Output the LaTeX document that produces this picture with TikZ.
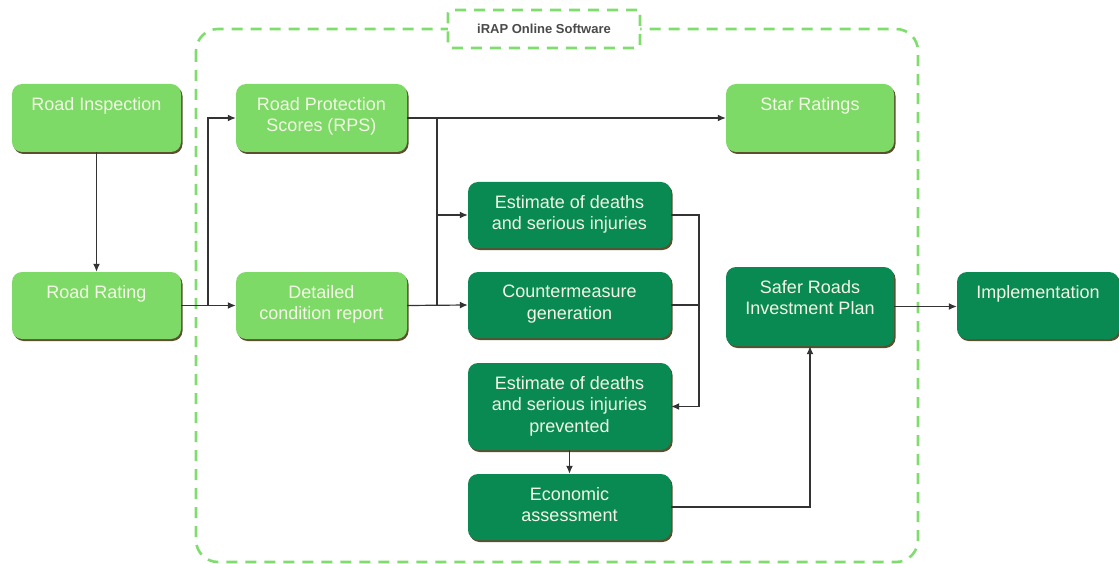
\documentclass[tikz,border=0pt]{standalone}
\usepackage{fontspec}
\setmainfont{Liberation Sans}
\usetikzlibrary{arrows.meta}
\definecolor{lgreen}{HTML}{7DDA67}
\definecolor{dgreen}{HTML}{088A52}
\definecolor{shade}{HTML}{5A5030}
\definecolor{dashgreen}{HTML}{7FDD6E}
\definecolor{txtc}{HTML}{F4F7E6}
\definecolor{linec}{HTML}{333333}
\definecolor{labc}{HTML}{4A4A4A}
\begin{document}
\begin{tikzpicture}[x=1pt,y=-1pt,
  boxbase/.style={rounded corners=10pt, inner sep=0pt},
  shad/.style={fill=shade, rounded corners=10pt},
  lbox/.style={boxbase, fill=lgreen},
  dbox/.style={boxbase, fill=dgreen},
  txt/.style={font=\fontsize{18}{21.5}\selectfont, text=txtc, align=center, inner sep=0pt, anchor=north, yshift=-13pt},
  arr/.style={draw=linec, line width=1.2pt, -{Latex[length=8pt,width=7pt]}},
  ln/.style={draw=linec, line width=1.2pt},
  cont/.style={draw=dashgreen, line width=2.6pt, dash pattern=on 11pt off 8pt}]
\useasboundingbox (0,0) rectangle (1119,564);
% container
\draw[cont, rounded corners=22pt] (196,29) rectangle (918,562);
\node[cont, fill=white, rounded corners=3pt, minimum width=192pt, minimum height=38pt, inner sep=0pt,
  font=\fontsize{13}{16}\selectfont\bfseries, text=labc] (lab) at (544,29) {iRAP Online Software};
% shadows
\foreach \cx/\cy/\w/\h in {96.5/118/169/68, 96.5/305.5/169/67, 321.5/118/171/68, 321.5/305.5/171/67,
  810/118/168/68, 569.5/215/203/66, 569.5/305/203/66, 569.5/406.5/203/87, 569.5/507/203/66,
  810/306.5/168/79, 1038/305.5/162/67}
  \fill[shad] (\cx-\w/2+1.5,\cy-\h/2+2) rectangle (\cx+\w/2+1.5,\cy+\h/2+2);
% boxes
\node[lbox, minimum width=169pt, minimum height=68pt] (ri) at (96.5,118) {};
\node[txt] at (ri.north) {Road Inspection};
\node[lbox, minimum width=169pt, minimum height=67pt] (rr) at (96.5,305.5) {};
\node[txt] at (rr.north) {Road Rating};
\node[lbox, minimum width=171pt, minimum height=68pt] (rps) at (321.5,118) {};
\node[txt] at (rps.north) {Road Protection\\Scores (RPS)};
\node[lbox, minimum width=171pt, minimum height=67pt] (dcr) at (321.5,305.5) {};
\node[txt] at (dcr.north) {Detailed\\condition report};
\node[lbox, minimum width=168pt, minimum height=68pt] (star) at (810,118) {};
\node[txt] at (star.north) {Star Ratings};
\node[dbox, minimum width=203pt, minimum height=66pt] (ed) at (569.5,215) {};
\node[txt] at (ed.north) {Estimate of deaths\\and serious injuries};
\node[dbox, minimum width=203pt, minimum height=66pt] (cm) at (569.5,305) {};
\node[txt] at (cm.north) {Countermeasure\\generation};
\node[dbox, minimum width=203pt, minimum height=87pt] (ep) at (569.5,406.5) {};
\node[txt] at (ep.north) {Estimate of deaths\\and serious injuries\\prevented};
\node[dbox, minimum width=203pt, minimum height=66pt] (ea) at (569.5,507) {};
\node[txt] at (ea.north) {Economic\\assessment};
\node[dbox, minimum width=168pt, minimum height=79pt] (srip) at (810,306.5) {};
\node[txt] at (srip.north) {Safer Roads\\Investment Plan};
\node[dbox, minimum width=162pt, minimum height=67pt] (impl) at (1038,305.5) {};
\node[txt] at (impl.north) {Implementation};
% connectors
\draw[arr] (ri) -- (rr);
\draw[ln] (rr.east) -- (208,305.5) coordinate (b1);
\draw[arr] (b1) |- (rps.west);
\draw[arr] (b1) -- (dcr.west);
\draw[arr] (rps.east) -- (star.west);
\coordinate (b2) at (437,118);
\draw[ln] (b2) -- (437,305.5) coordinate (b2b);
\draw[arr] (b2) |- (ed.west);
\draw[arr] (dcr.east) -- (cm.west);
\draw[arr] (ed.east) -- (699,215) coordinate (b3) |- (ep.east);
\draw[ln] (cm.east) -- (699,305);
\draw[arr] (ep.south) -- (ea.north);
\draw[arr] (ea.east) -| (srip.south);
\draw[arr] (srip.east) -- (srip.east -| impl.west);
\end{tikzpicture}
\end{document}
